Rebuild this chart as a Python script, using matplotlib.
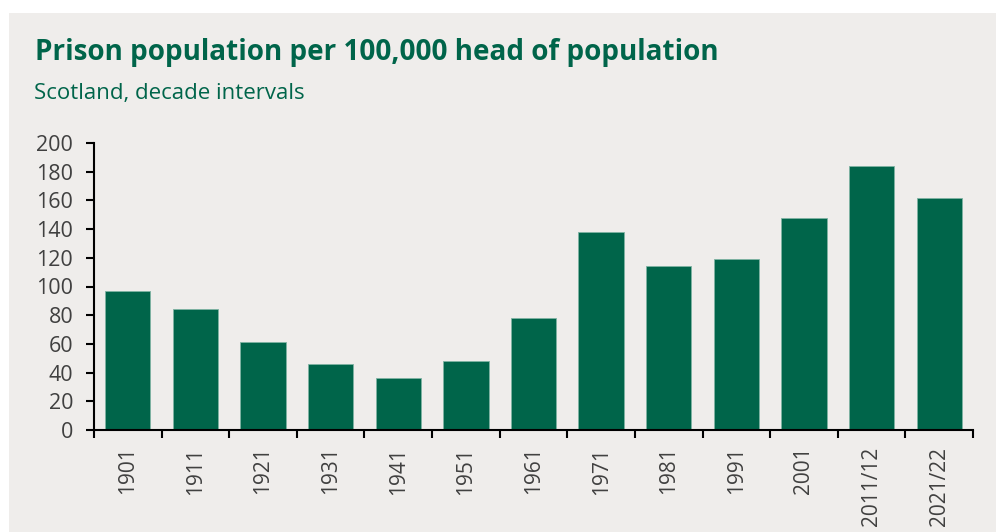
import numpy as np
import matplotlib.pyplot as plt
from matplotlib.patches import Rectangle
from matplotlib.ticker import FixedLocator, NullFormatter

years = ["1901", "1911", "1921", "1931", "1941", "1951", "1961",
         "1971", "1981", "1991", "2001", "2011/12", "2021/22"]
rate = [97, 84, 61, 46, 36, 48, 78, 138, 114, 119, 148, 184, 162]

green = "#00654A"
bg = "#EFEDEB"
tick_grey = "#404040"

plt.rcParams.update({"font.family": "Open Sans"})

fig = plt.figure(figsize=(9.96, 5.32), dpi=100, facecolor="white")
fig.patches.append(Rectangle((9 / 996, 0), 1, 1 - 13 / 532, transform=fig.transFigure,
                             facecolor=bg, edgecolor="none", zorder=-10))

ax = fig.add_axes([94 / 996, 1 - 430 / 532, (973 - 94) / 996, (430 - 143) / 532])
ax.set_facecolor("none")
ax.set_zorder(5)

x = np.arange(len(years))
ax.bar(x, rate, width=0.67, color=green, edgecolor="#7FB3A3", linewidth=0.6)

ax.set_xlim(-0.5, len(years) - 0.5)
ax.set_ylim(0, 200)
ax.set_yticks(np.arange(0, 201, 20))
ax.set_xticks(x)
ax.set_xticklabels(years, rotation=90)
ax.xaxis.set_minor_locator(FixedLocator(np.arange(-0.5, len(years), 1)))
ax.xaxis.set_minor_formatter(NullFormatter())
ax.tick_params(axis="x", which="major", length=0, pad=12, labelsize=15, labelcolor=tick_grey)
ax.tick_params(axis="x", which="minor", length=6, width=1.5, color="black", direction="out")
ax.tick_params(axis="y", length=6, width=1.5, color="black", labelsize=15.5, labelcolor=tick_grey, pad=9)

for s in ["top", "right"]:
    ax.spines[s].set_visible(False)
for s in ["left", "bottom"]:
    ax.spines[s].set_linewidth(1.5)

fig.text(35 / 996, 1 - 60 / 532, "Prison population per 100,000 head of population",
         fontsize=20.1, fontweight="bold", color=green)
fig.text(34 / 996, 1 - 99 / 532, "Scotland, decade intervals", fontsize=16, color=green)

fig.savefig("out.png", dpi=100, facecolor="white")
